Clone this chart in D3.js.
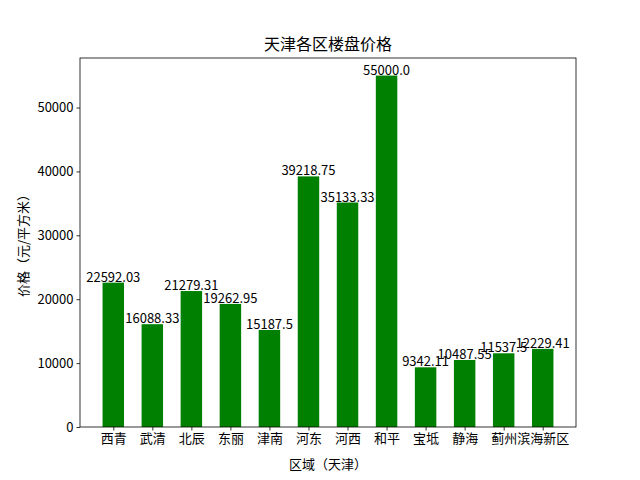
<!DOCTYPE html>
<html><head><meta charset="utf-8">
<script src="https://cdn.jsdelivr.net/npm/d3@7"></script>
<style>body{margin:0;background:#fff}svg{display:block}text{font-family:"Noto Sans CJK SC","DejaVu Sans",sans-serif}</style>
</head><body>
<svg id="c" width="640" height="480"></svg>
<script>
const categories = ["西青","武清","北辰","东丽","津南","河东","河西","和平","宝坻","静海","蓟州","滨海新区"];
const values = [22592.03,16088.33,21279.31,19262.95,15187.5,39218.75,35133.33,55000.0,9342.11,10487.55,11537.5,12229.41];
const labels = ["22592.03","16088.33","21279.31","19262.95","15187.5","39218.75","35133.33","55000.0","9342.11","10487.55","11537.5","12229.41"];
const yTicks = [0,10000,20000,30000,40000,50000];

const svg = d3.select("#c");
const L=80,R=576,T=58,B=427;
const w=0.55;
const n=categories.length;
const pad=(n-1+w)*0.05+w/2;
const x=d3.scaleLinear().domain([-pad,n-1+pad]).range([L,R]);
const y=d3.scaleLinear().domain([0,d3.max(values)*1.05]).range([B,T]);

svg.append("g").selectAll("rect").data(values).join("rect")
  .attr("x",(d,i)=>x(i-w/2)).attr("width",x(w)-x(0))
  .attr("y",d=>y(d)).attr("height",d=>B-y(d)).attr("fill","#008000");

svg.append("g").selectAll("text").data(values).join("text")
  .attr("x",(d,i)=>x(i)).attr("y",d=>y(d)-1).attr("text-anchor","middle")
  .attr("font-size",13).attr("fill","#000").text((d,i)=>labels[i]);

const xa=svg.append("g").attr("transform",`translate(0,${B})`)
  .call(d3.axisBottom(x).tickValues(d3.range(n)).tickFormat(i=>categories[i]).tickSize(3.5).tickPadding(3));
const ya=svg.append("g").attr("transform",`translate(${L},0)`)
  .call(d3.axisLeft(y).tickValues(yTicks).tickFormat(d3.format("d")).tickSize(3.5).tickPadding(3));
[xa,ya].forEach(a=>{a.select(".domain").remove();a.selectAll("text").attr("font-size",13).attr("fill","#000").style("font-family",'"Noto Sans CJK SC",sans-serif');a.selectAll("line").attr("stroke","#000").attr("stroke-width",0.8);});

svg.append("rect").attr("x",L).attr("y",T).attr("width",R-L).attr("height",B-T)
  .attr("fill","none").attr("stroke","#000").attr("stroke-width",0.8);

svg.append("text").attr("x",(L+R)/2).attr("y",T-8).attr("text-anchor","middle").attr("font-size",16).text("天津各区楼盘价格");
svg.append("text").attr("x",(L+R)/2).attr("y",469).attr("text-anchor","middle").attr("font-size",13).text("区域（天津）");
svg.append("text").attr("transform",`translate(28,${(T+B)/2}) rotate(-90)`).attr("text-anchor","middle").attr("font-size",13).text("价格（元/平方米）");
</script>
</body></html>
